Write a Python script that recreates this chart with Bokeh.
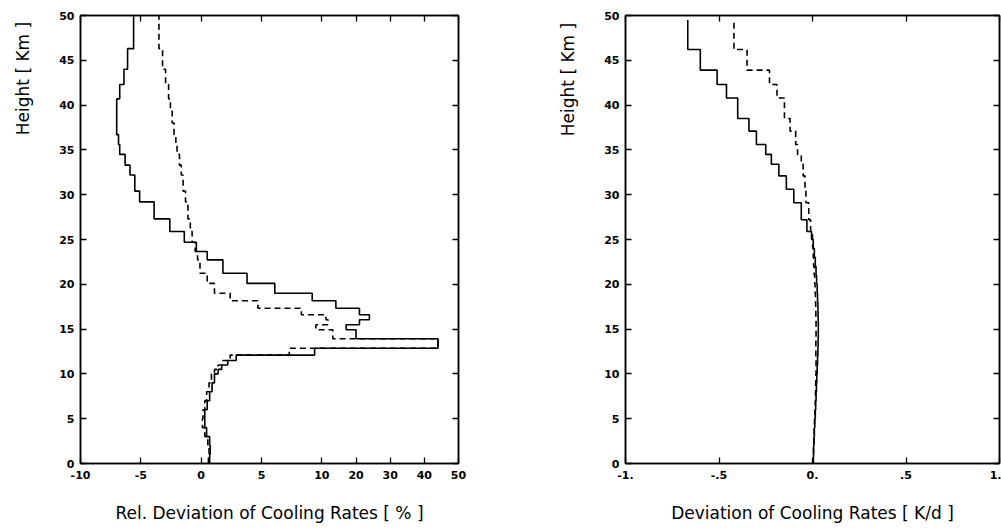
import numpy as np
from bokeh.plotting import figure
from bokeh.models import FixedTicker, LinearAxis, Range1d, Label
from bokeh.layouts import row
from bokeh.embed import file_html
from bokeh.resources import INLINE

# ---------------- data: left panel (relative deviation, %) ----------------
left_edges = [0, 1, 2, 3, 4, 5, 6, 7, 8, 9, 10, 10.5, 11, 11.5, 12.1, 12.87,
              13.92, 14.92, 15.48, 16.04, 16.6, 17.33, 18.16, 19.0, 20.1, 21.24,
              22.73, 23.66, 24.7, 25.9, 27.3, 29.2, 30.4, 32.2, 33.3, 34.5, 35.6,
              36.7, 38.0, 39.3, 40.7, 42.3, 44.0, 46.3, 50]
left_solid = [0.7, 0.75, 0.7, 0.45, 0.3, 0.3, 0.5, 0.7, 0.9, 1.1, 1.4, 1.7, 2.2,
              2.9, 9.4, 44.0, 20.0, 17.1, 21.0, 23.9, 21.0, 14.1, 9.2, 6.1, 3.8,
              1.8, 0.5, -0.4, -1.4, -2.6, -3.9, -5.1, -5.5, -5.9, -6.3, -6.75,
              -6.85, -7.0, -7.0, -7.0, -6.75, -6.4, -6.1, -5.6]
left_dashed = [0.6, 0.65, 0.55, 0.3, 0.1, 0.15, 0.3, 0.45, 0.65, 0.85, 1.1, 1.4,
               1.8, 2.4, 7.3, 44.0, 13.2, 9.5, 11.8, 11.2, 8.3, 4.7, 2.4, 1.1,
               0.5, -0.1, -0.3, -0.5, -0.75, -0.9, -1.1, -1.3, -1.5, -1.65, -1.8,
               -2.0, -2.1, -2.25, -2.4, -2.55, -2.7, -2.95, -3.2, -3.5]
left_tick_values = [-10, -5, 0, 5, 10, 20, 30, 40, 50]
left_tick_labels = ["-10", "-5", "0", "5", "10", "20", "30", "40", "50"]

# ---------------- data: right panel (absolute deviation, K/d) ----------------
right_edges = [0, 1, 2, 3, 4, 5, 6, 7, 8, 9, 10, 11, 12, 13, 14, 15, 16, 17, 18,
               19, 20, 21, 22, 23, 24, 25, 25.9, 27.2, 29.1, 30.6, 32.1, 33.4,
               34.5, 35.6, 37.1, 38.5, 40.8, 42.3, 43.9, 46.2, 49.5]
right_solid = [0.005, 0.006, 0.008, 0.01, 0.012, 0.015, 0.017, 0.019, 0.021,
               0.023, 0.025, 0.027, 0.029, 0.03, 0.031, 0.031, 0.03, 0.029,
               0.027, 0.025, 0.022, 0.019, 0.015, 0.01, 0.004, -0.005, -0.03,
               -0.06, -0.10, -0.14, -0.18, -0.22, -0.25, -0.30, -0.34, -0.40,
               -0.46, -0.51, -0.60, -0.667]
right_dashed = [0.004, 0.005, 0.007, 0.009, 0.011, 0.013, 0.015, 0.016, 0.017,
                0.018, 0.019, 0.019, 0.018, 0.018, 0.019, 0.019, 0.018, 0.017,
                0.016, 0.014, 0.012, 0.009, 0.006, 0.004, 0.001, 0.0, -0.01,
                -0.02, -0.035, -0.04, -0.05, -0.06, -0.08, -0.09, -0.12, -0.15,
                -0.19, -0.23, -0.35, -0.42]
right_tick_values = [-1, -0.5, 0, 0.5, 1]
right_tick_labels = ["-1.", "-.5", "0.", ".5", "1."]

height_ticks = [0, 5, 10, 15, 20, 25, 30, 35, 40, 45, 50]
y_title = "Height [ Km ]"

FONT = "DejaVu Sans"
H = 529
FRAME_BOTTOM = 464   # page y of the frames' bottom edge (frames are row-aligned)


def warp(v):
    """Axis of the left panel is compressed beyond +10 %."""
    v = np.asarray(v, dtype=float)
    return np.where(v <= 10, v, 10 + (v - 10) * 0.283)


def profile(edges, values):
    xs, ys = [], []
    for i, v in enumerate(values):
        xs += [v, v]
        ys += [edges[i], edges[i + 1]]
    return xs, ys


def style_axis(ax, labels=True, standoff=6):
    ax.axis_line_color = "black"
    ax.axis_line_width = 1.5
    ax.major_tick_in = 6
    ax.major_tick_out = 0
    ax.major_tick_line_color = "black"
    ax.major_tick_line_width = 1.3
    ax.minor_tick_line_color = None
    if labels:
        ax.major_label_text_font = FONT
        ax.major_label_text_font_size = "11px"
        ax.major_label_text_font_style = "bold"
        ax.major_label_text_color = "black"
        ax.major_label_standoff = standoff
    else:
        ax.major_label_text_color = None
        ax.major_label_text_font_size = "0px"
        ax.major_label_standoff = 0


def title_strip(width, cx, cy):
    """Narrow blank figure carrying the rotated y-axis title."""
    t = figure(width=width, height=H, x_range=Range1d(0, 1), y_range=Range1d(0, 1),
               output_backend="svg", toolbar_location=None,
               min_border_left=0, min_border_right=0, min_border_top=0,
               min_border_bottom=0, x_axis_location=None, y_axis_location=None)
    t.grid.visible = False
    t.outline_line_color = None
    t.background_fill_color = "white"
    t.border_fill_color = "white"
    t.add_layout(Label(x=cx, y=FRAME_BOTTOM - cy, x_units="screen", y_units="screen",
                       text=y_title, angle=np.pi / 2, text_align="center",
                       text_baseline="middle", text_font=FONT,
                       text_font_size="17px", text_color="black"))
    return t


def make_panel(width, bl, br, x_range, xticks, xlabels, xtitle, solid, dashed, edges):
    p = figure(width=width, height=H, x_range=Range1d(*x_range),
               y_range=Range1d(0, 50), output_backend="svg",
               toolbar_location=None, min_border_left=bl, min_border_right=br,
               min_border_top=15, min_border_bottom=66,
               x_axis_location=None, y_axis_location=None)
    p.grid.visible = False
    p.outline_line_color = "black"
    p.outline_line_width = 1.5
    p.background_fill_color = "white"
    p.border_fill_color = "white"

    xt = FixedTicker(ticks=list(xticks))
    yt = FixedTicker(ticks=height_ticks)
    overrides = {float(t): l for t, l in zip(xticks, xlabels)}
    overrides.update({int(t): l for t, l in zip(xticks, xlabels) if float(t).is_integer()})

    bottom = LinearAxis(ticker=xt, major_label_overrides=overrides)
    style_axis(bottom, True, 7)
    bottom.axis_label = xtitle
    bottom.axis_label_text_font = FONT
    bottom.axis_label_text_font_size = "17px"
    bottom.axis_label_text_font_style = "normal"
    bottom.axis_label_text_color = "black"
    bottom.axis_label_standoff = 21
    p.add_layout(bottom, "below")

    left = LinearAxis(ticker=yt)
    style_axis(left, True, 6)
    p.add_layout(left, "left")

    top = LinearAxis(ticker=xt)
    style_axis(top, False)
    p.add_layout(top, "above")
    right = LinearAxis(ticker=yt)
    style_axis(right, False)
    p.add_layout(right, "right")

    sx, sy = profile(edges, solid)
    dx, dy = profile(edges, dashed)
    p.line(sx, sy, line_color="black", line_width=1.6)
    p.line(dx, dy, line_color="black", line_width=1.6, line_dash="6 4")
    return p


left_title = title_strip(45, 22, 79)
left_fig = make_panel(475, 35, 62, (float(warp(-10)), float(warp(50))),
                      [float(t) for t in warp(left_tick_values)], left_tick_labels,
                      "Rel. Deviation of Cooling Rates [ % ]",
                      list(warp(left_solid)), list(warp(left_dashed)), left_edges)

right_title = title_strip(60, 47, 80)
right_fig = make_panel(421, 45, 2, (-1, 1), right_tick_values, right_tick_labels,
                       "Deviation of Cooling Rates [ K/d ]",
                       right_solid, right_dashed, right_edges)

layout = row(left_title, left_fig, right_title, right_fig)
open("out.html", "w").write(file_html(layout, INLINE))
